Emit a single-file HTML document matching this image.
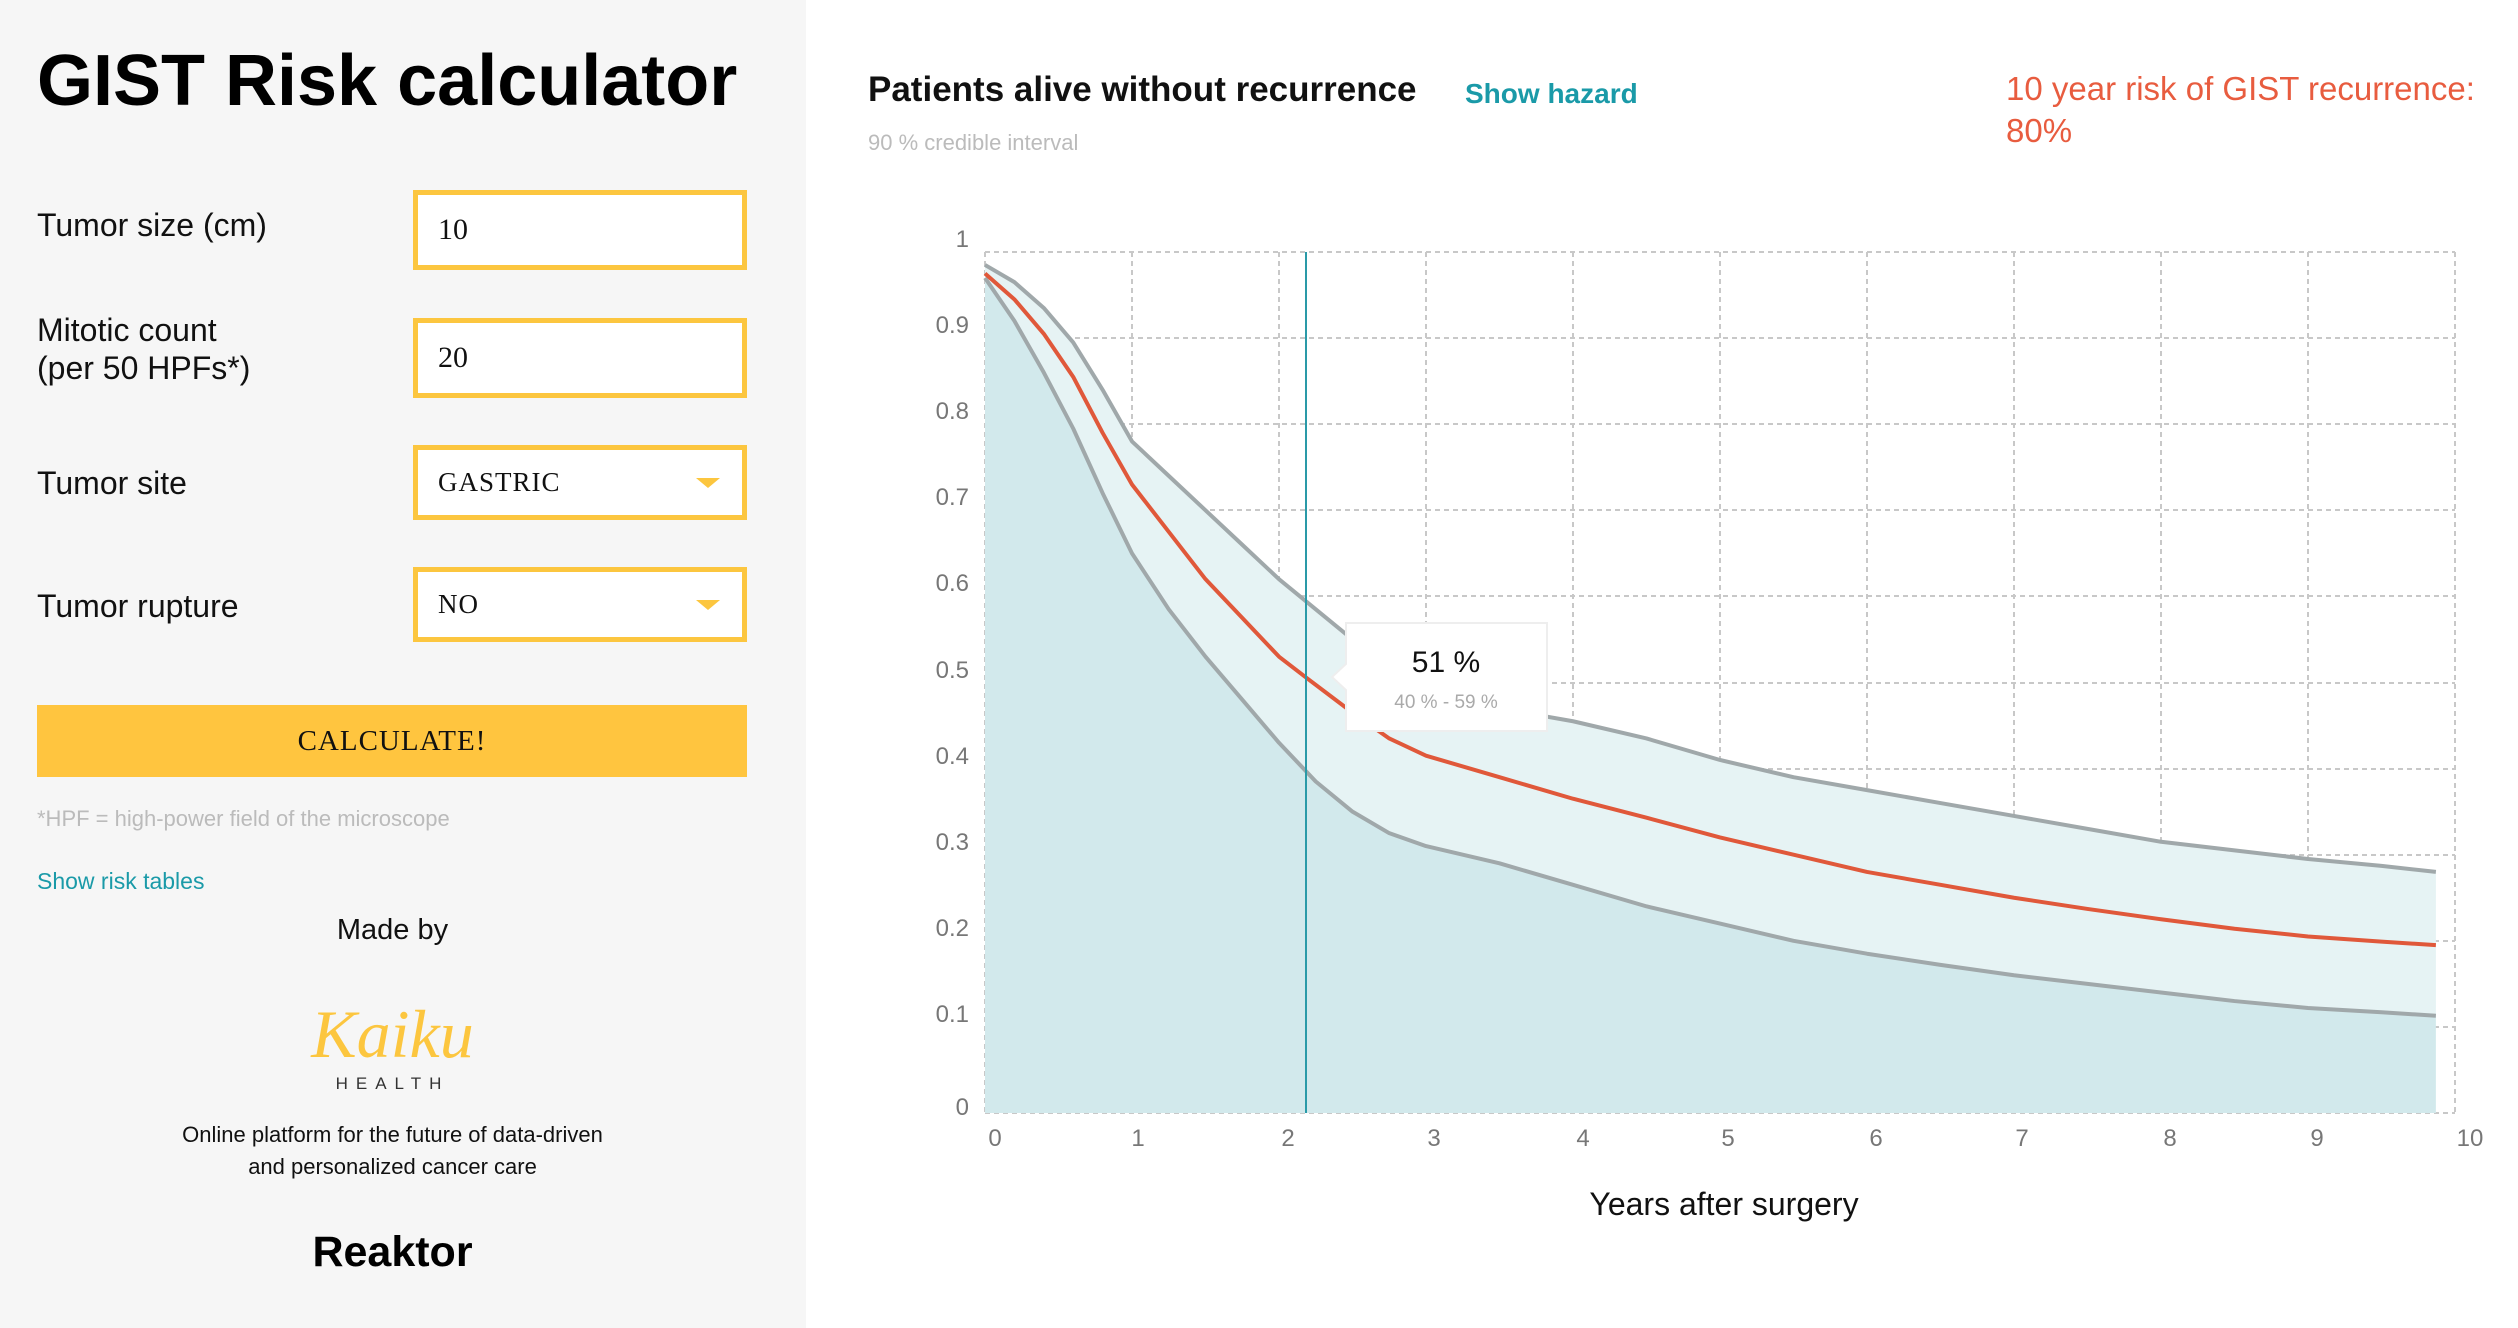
<!DOCTYPE html>
<html><head><meta charset="utf-8"><style>
*{margin:0;padding:0;box-sizing:border-box}
body{width:2518px;height:1328px;background:#fff;font-family:"Liberation Sans",sans-serif;position:relative;overflow:hidden}
.l{position:absolute;left:0;top:0;width:806px;height:1328px;background:#f6f6f6}
.a{position:absolute;white-space:nowrap}
.lab{font-size:32px;color:#111;line-height:38px}
.box{position:absolute;left:413px;width:334px;border:5px solid #fcc63f;background:#fff;font-family:"Liberation Serif",serif;font-size:30px;color:#111;padding-left:20px}
.tri{position:absolute;right:22px;width:0;height:0;border-left:12px solid transparent;border-right:12px solid transparent;border-top:10px solid #fcc63f}
</style></head><body>
<div class="l">
<div class="a" style="left:37px;top:40px;font-size:72px;font-weight:bold;color:#000">GIST Risk calculator</div>
<div class="a lab" style="left:37px;top:206px">Tumor size (cm)</div>
<div class="a lab" style="left:37px;top:311px">Mitotic count<br>(per 50 HPFs*)</div>
<div class="a lab" style="left:37px;top:464px">Tumor site</div>
<div class="a lab" style="left:37px;top:587px">Tumor rupture</div>
<div class="box" style="top:190px;height:80px;line-height:70px">10</div>
<div class="box" style="top:318px;height:80px;line-height:70px">20</div>
<div class="box" style="top:445px;height:75px;line-height:65px;font-size:27px;letter-spacing:1px">GASTRIC<div class="tri" style="top:28px"></div></div>
<div class="box" style="top:567px;height:75px;line-height:65px;font-size:27px;letter-spacing:1px">NO<div class="tri" style="top:28px"></div></div>
<div class="a" style="left:37px;top:705px;width:710px;height:72px;background:#ffc53f;text-align:center;line-height:72px;font-family:'Liberation Serif',serif;font-size:29px;letter-spacing:1px;color:#111">CALCULATE!</div>
<div class="a" style="left:37px;top:806px;font-size:22px;color:#bbb">*HPF = high-power field of the microscope</div>
<div class="a" style="left:37px;top:868px;font-size:23px;color:#1a9aa8">Show risk tables</div>
<div class="a" style="left:0;width:785px;text-align:center;top:914px;font-size:29px;color:#111">Made by</div>
<div class="a" style="left:0;width:785px;text-align:center;top:995px;font-size:68px;font-style:italic;color:#fcc63f;font-family:'Liberation Serif',serif">Kaiku</div>
<div class="a" style="left:0;width:785px;text-align:center;top:1074px;font-size:17px;letter-spacing:8px;color:#333">HEALTH</div>
<div class="a" style="left:0;width:785px;text-align:center;top:1119px;font-size:22px;line-height:32px;color:#111">Online platform for the future of data-driven<br>and personalized cancer care</div>
<div class="a" style="left:0;width:785px;text-align:center;top:1228px;font-size:43px;font-weight:bold;color:#000">Reaktor</div>
</div>
<div class="a" style="left:868px;top:70px;font-size:35px;font-weight:bold;color:#111">Patients alive without recurrence</div>
<div class="a" style="left:1465px;top:78px;font-size:28px;font-weight:bold;color:#1a9aa8">Show hazard</div>
<div class="a" style="left:868px;top:130px;font-size:22px;color:#bbb">90 % credible interval</div>
<div class="a" style="left:2006px;top:68px;font-size:33px;line-height:42px;color:#e85c3f">10 year risk of GIST recurrence:<br>80%</div>
<svg width="2518" height="1328" style="position:absolute;left:0;top:0">
<g stroke="#c8c8c8" stroke-width="2" stroke-dasharray="5,4">
<line x1="985" y1="252" x2="2455" y2="252"/><line x1="985" y1="338" x2="2455" y2="338"/><line x1="985" y1="424" x2="2455" y2="424"/><line x1="985" y1="510" x2="2455" y2="510"/><line x1="985" y1="596" x2="2455" y2="596"/><line x1="985" y1="683" x2="2455" y2="683"/><line x1="985" y1="769" x2="2455" y2="769"/><line x1="985" y1="855" x2="2455" y2="855"/><line x1="985" y1="941" x2="2455" y2="941"/><line x1="985" y1="1027" x2="2455" y2="1027"/><line x1="985" y1="1113" x2="2455" y2="1113"/>
<line x1="985" y1="252" x2="985" y2="1113"/><line x1="1132" y1="252" x2="1132" y2="1113"/><line x1="1279" y1="252" x2="1279" y2="1113"/><line x1="1426" y1="252" x2="1426" y2="1113"/><line x1="1573" y1="252" x2="1573" y2="1113"/><line x1="1720" y1="252" x2="1720" y2="1113"/><line x1="1867" y1="252" x2="1867" y2="1113"/><line x1="2014" y1="252" x2="2014" y2="1113"/><line x1="2161" y1="252" x2="2161" y2="1113"/><line x1="2308" y1="252" x2="2308" y2="1113"/><line x1="2455" y1="252" x2="2455" y2="1113"/>
</g>
<g transform="translate(985,1113) scale(147,-861)">
<path fill="#e6f3f4" d="M0,0.985 L0.2,0.965 0.4,0.935 0.6,0.895 0.8,0.84 1,0.78 1.25,0.74 1.5,0.70 1.75,0.66 2,0.62 2.25,0.585 2.5,0.55 2.75,0.515 3,0.49 3.5,0.47 4,0.455 4.5,0.435 5,0.41 5.5,0.39 6,0.375 6.5,0.36 7,0.345 7.5,0.33 8,0.315 8.5,0.305 9,0.295 9.5,0.287 9.87,0.28 L9.87,0.113 9.5,0.117 9,0.122 8.5,0.13 8,0.14 7.5,0.15 7,0.16 6.5,0.172 6,0.185 5.5,0.2 5,0.22 4.5,0.24 4,0.265 3.5,0.29 3,0.31 2.75,0.325 2.5,0.35 2.25,0.385 2,0.43 1.75,0.48 1.5,0.53 1.25,0.585 1,0.65 0.8,0.72 0.6,0.795 0.4,0.86 0.2,0.92 0,0.97Z"/>
<path fill="#d2e9ec" d="M0,0 L0,0.97 0.2,0.92 0.4,0.86 0.6,0.795 0.8,0.72 1,0.65 1.25,0.585 1.5,0.53 1.75,0.48 2,0.43 2.25,0.385 2.5,0.35 2.75,0.325 3,0.31 3.5,0.29 4,0.265 4.5,0.24 5,0.22 5.5,0.2 6,0.185 6.5,0.172 7,0.16 7.5,0.15 8,0.14 8.5,0.13 9,0.122 9.5,0.117 9.87,0.113 L9.87,0Z"/>
<g fill="none" stroke-linejoin="round">
<path vector-effect="non-scaling-stroke" stroke="#a0a8aa" stroke-width="4" d="M0,0.985 L0.2,0.965 0.4,0.935 0.6,0.895 0.8,0.84 1,0.78 1.25,0.74 1.5,0.70 1.75,0.66 2,0.62 2.25,0.585 2.5,0.55 2.75,0.515 3,0.49 3.5,0.47 4,0.455 4.5,0.435 5,0.41 5.5,0.39 6,0.375 6.5,0.36 7,0.345 7.5,0.33 8,0.315 8.5,0.305 9,0.295 9.5,0.287 9.87,0.28"/>
<path vector-effect="non-scaling-stroke" stroke="#a0a8aa" stroke-width="4" d="M0,0.97 L0.2,0.92 0.4,0.86 0.6,0.795 0.8,0.72 1,0.65 1.25,0.585 1.5,0.53 1.75,0.48 2,0.43 2.25,0.385 2.5,0.35 2.75,0.325 3,0.31 3.5,0.29 4,0.265 4.5,0.24 5,0.22 5.5,0.2 6,0.185 6.5,0.172 7,0.16 7.5,0.15 8,0.14 8.5,0.13 9,0.122 9.5,0.117 9.87,0.113"/>
<path vector-effect="non-scaling-stroke" stroke="#e0583a" stroke-width="4" d="M0,0.975 L0.2,0.945 0.4,0.905 0.6,0.855 0.8,0.79 1,0.73 1.25,0.675 1.5,0.62 1.75,0.575 2,0.53 2.19,0.505 2.5,0.465 2.75,0.435 3,0.415 3.5,0.39 4,0.365 4.5,0.343 5,0.32 5.5,0.3 6,0.28 6.5,0.265 7,0.25 7.5,0.237 8,0.225 8.5,0.214 9,0.205 9.5,0.199 9.87,0.195"/>
</g></g>
<line x1="1306" y1="252" x2="1306" y2="1113" stroke="#2a9aa8" stroke-width="2"/>
<path d="M1346,623 H1547 V731 H1346 V690 L1332,677 L1346,664Z" fill="#fff" stroke="#eee" stroke-width="2"/>
<text x="1446" y="672" font-size="30" text-anchor="middle" fill="#111" font-family="Liberation Sans">51 %</text>
<text x="1446" y="708" font-size="19" text-anchor="middle" fill="#aaa" font-family="Liberation Sans">40 % - 59 %</text>
<g font-family="Liberation Sans" font-size="24" fill="#777" text-anchor="end">
<text x="969" y="247">1</text><text x="969" y="333">0.9</text><text x="969" y="419">0.8</text><text x="969" y="505">0.7</text><text x="969" y="591">0.6</text><text x="969" y="678">0.5</text><text x="969" y="764">0.4</text><text x="969" y="850">0.3</text><text x="969" y="936">0.2</text><text x="969" y="1022">0.1</text><text x="969" y="1115">0</text>
</g>
<g font-family="Liberation Sans" font-size="24" fill="#777" text-anchor="middle">
<text x="995" y="1146">0</text><text x="1138" y="1146">1</text><text x="1288" y="1146">2</text><text x="1434" y="1146">3</text><text x="1583" y="1146">4</text><text x="1728" y="1146">5</text><text x="1876" y="1146">6</text><text x="2022" y="1146">7</text><text x="2170" y="1146">8</text><text x="2317" y="1146">9</text><text x="2470" y="1146">10</text>
</g>
<text x="1724" y="1215" font-family="Liberation Sans" font-size="32" fill="#111" text-anchor="middle">Years after surgery</text>
</svg>
</body></html>
